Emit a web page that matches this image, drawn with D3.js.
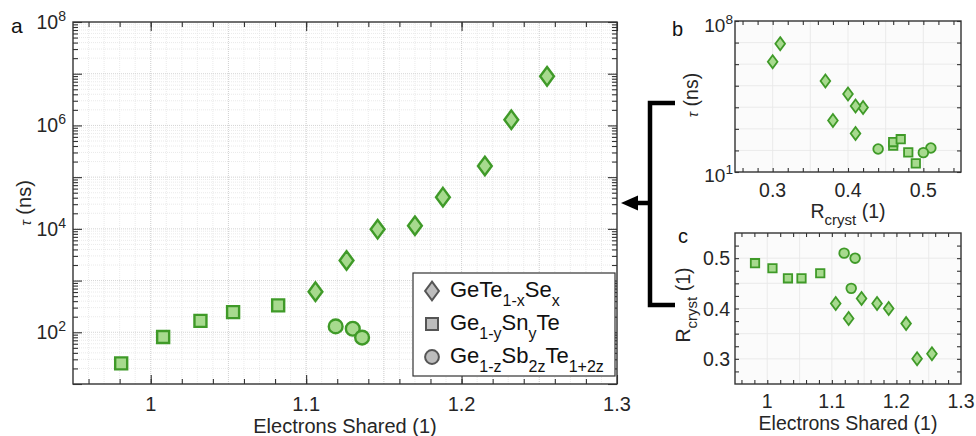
<!DOCTYPE html>
<html>
<head>
<meta charset="utf-8">
<script src="https://cdn.jsdelivr.net/npm/d3@7"></script>
<style>
  body { margin: 0; background: #fff; }
  svg { display: block; font-family: "Liberation Sans", Arial, sans-serif; }
</style>
</head>
<body>
<svg id="fig" width="976" height="436"></svg>
<script>
// Data: one entry per sample
const seriesNames = ['GeTe', 'GeSnTe', 'GeSbTe']
// GeTe(1-x)Se(x)
const seElectrons = [1.106, 1.126, 1.146, 1.170, 1.188, 1.215, 1.232, 1.255]
const seTau = [610, 2450, 9800, 11500, 41000, 164000, 1290000, 8900000]
const seRcryst = [0.41, 0.38, 0.42, 0.41, 0.40, 0.37, 0.30, 0.31]
// Ge(1-y)Sn(y)Te
const snElectrons = [0.981, 1.008, 1.032, 1.053, 1.082]
const snTau = [25, 81, 166, 245, 331]
const snRcryst = [0.49, 0.48, 0.46, 0.46, 0.47]
// Ge(1-z)Sb(2z)Te(1+2z)
const sbElectrons = [1.119, 1.130, 1.136]
const sbTau = [130, 117, 79]
const sbRcryst = [0.51, 0.44, 0.50]

const xTicksElectrons = [1, 1.1, 1.2, 1.3]
const yTicksTauA = [2, 4, 6, 8]       // exponents labelled in panel a
const yTicksTauB = [1, 8]             // exponents labelled in panel b
const xTicksR = [0.3, 0.4, 0.5]
const yTicksR = [0.3, 0.4, 0.5]

const fillGreen = '#a7da8e'
const strokeGreen = '#3f9a28'
const textCol = '#262626'

const series = [
  {name: seriesNames[0], shape: 'diamond', e: seElectrons, tau: seTau, r: seRcryst},
  {name: seriesNames[1], shape: 'square', e: snElectrons, tau: snTau, r: snRcryst},
  {name: seriesNames[2], shape: 'circle', e: sbElectrons, tau: sbTau, r: sbRcryst}
]

const svg = d3.select('#fig')

function markerPath(shape, s) {
  // s = half width of the square
  if (shape === 'square') return `M${-s},${-s}H${s}V${s}H${-s}Z`
  if (shape === 'diamond') return `M0,${-s * 1.55}L${s * 1.15},0L0,${s * 1.55}L${-s * 1.15},0Z`
  const r = s * 1.15
  return `M${-r},0A${r},${r} 0 1,0 ${r},0A${r},${r} 0 1,0 ${-r},0Z`
}

function inwardTicks(g, x, y, xVals, yVals, len) {
  const [x0, x1] = x.range()
  const [y0, y1] = y.range()
  const strip = s => s.select('.domain').remove()
  g.append('g').attr('transform', `translate(0,${y0})`)
    .call(d3.axisBottom(x).tickValues(xVals).tickSize(-len).tickFormat('')).call(strip)
  g.append('g').attr('transform', `translate(0,${y1})`)
    .call(d3.axisTop(x).tickValues(xVals).tickSize(-len).tickFormat('')).call(strip)
  g.append('g').attr('transform', `translate(${x0},0)`)
    .call(d3.axisLeft(y).tickValues(yVals).tickSize(-len).tickFormat('')).call(strip)
  g.append('g').attr('transform', `translate(${x1},0)`)
    .call(d3.axisRight(y).tickValues(yVals).tickSize(-len).tickFormat('')).call(strip)
  g.selectAll('.tick line').attr('stroke', '#333').attr('stroke-width', 1.1)
}

function frame(g, x, y) {
  const [x0, x1] = x.range()
  const [y0, y1] = y.range()
  g.append('rect').attr('x', x0).attr('y', y1).attr('width', x1 - x0).attr('height', y0 - y1)
    .attr('fill', 'none').attr('stroke', '#333').attr('stroke-width', 1.4)
}

function grid(g, x, y, xVals, yVals, col, dash, w) {
  const [x0, x1] = x.range()
  const [y0, y1] = y.range()
  g.append('g').selectAll('line').data(xVals).join('line')
    .attr('x1', d => x(d)).attr('x2', d => x(d)).attr('y1', y0).attr('y2', y1)
    .attr('stroke', col).attr('stroke-width', w).attr('stroke-dasharray', dash)
  g.append('g').selectAll('line').data(yVals).join('line')
    .attr('y1', d => y(d)).attr('y2', d => y(d)).attr('x1', x0).attr('x2', x1)
    .attr('stroke', col).attr('stroke-width', w).attr('stroke-dasharray', dash)
}

function points(g, x, y, xKey, yKey, s, sw) {
  series.forEach(sr => {
    const pts = sr[xKey].map((v, i) => [v, sr[yKey][i]])
    g.append('g').selectAll('path').data(pts).join('path')
      .attr('transform', d => `translate(${x(d[0])},${y(d[1])})`)
      .attr('d', markerPath(sr.shape, s))
      .attr('fill', fillGreen).attr('stroke', strokeGreen).attr('stroke-width', sw)
  })
}

function range(a, b, step) {
  const out = []
  for (let v = a; v <= b + 1e-9; v += step) out.push(+v.toFixed(4))
  return out
}
function decades(lo, hi) { return d3.range(lo, hi + 1).map(k => Math.pow(10, k)) }
function logMinor(lo, hi) {
  const out = []
  for (let k = lo; k < hi; k++) for (let m = 2; m <= 9; m++) out.push(m * Math.pow(10, k))
  return out
}

function powLabel(g, xPos, yPos, exp, size) {
  const t = g.append('text').attr('x', xPos).attr('y', yPos).attr('text-anchor', 'end')
    .attr('fill', textCol).attr('font-size', size)
  t.append('tspan').text('10')
  t.append('tspan').attr('dy', -size * 0.42).attr('font-size', size * 0.72).text(exp)
}

function subText(t, parts, subSize, subDy) {
  // parts: [text, isSub]
  let low = false
  parts.forEach(([s, sub]) => {
    const ts = t.append('tspan').text(s)
    if (sub && !low) { ts.attr('dy', subDy).attr('font-size', subSize); low = true }
    else if (sub) ts.attr('font-size', subSize)
    else if (low) { ts.attr('dy', -subDy); low = false }
  })
}

// ---------- Panel a ----------
const xA = d3.scaleLinear().domain([0.95, 1.3]).range([73, 617])
const yA = d3.scaleLog().domain([10, 1e8]).range([384, 22])
const gA = svg.append('g')
grid(gA, xA, yA, range(0.96, 1.29, 0.01), logMinor(1, 8), '#e4e4e4', '1,1', 0.8)
grid(gA, xA, yA, range(1.0, 1.25, 0.05), decades(2, 7), '#cfcfcf', '1,1', 0.9)
inwardTicks(gA, xA, yA, range(0.96, 1.28, 0.02), logMinor(1, 8), 5)
inwardTicks(gA, xA, yA, xTicksElectrons, decades(1, 8), 9)
frame(gA, xA, yA)
points(gA, xA, yA, 'e', 'tau', 6, 2.4)

xTicksElectrons.forEach(v => gA.append('text').attr('x', xA(v)).attr('y', 411)
  .attr('text-anchor', 'middle').attr('font-size', 20).attr('fill', textCol).text(d3.format('~g')(v)))
yTicksTauA.forEach(k => powLabel(gA, 66, yA(Math.pow(10, k)) + 7, k, 19.5))
gA.append('text').attr('x', 345).attr('y', 433).attr('text-anchor', 'middle')
  .attr('font-size', 20).attr('fill', textCol).text('Electrons Shared (1)')
const tA = gA.append('text').attr('transform', 'translate(31,203) rotate(-90)')
  .attr('text-anchor', 'middle').attr('font-size', 20).attr('fill', textCol)
tA.append('tspan').attr('font-style', 'italic').attr('font-size', 15).text('τ')
tA.append('tspan').text(' (ns)')
svg.append('text').attr('x', 11).attr('y', 33).attr('font-size', 21).attr('fill', '#111').text('a')

// legend
const leg = gA.append('g')
leg.append('rect').attr('x', 413).attr('y', 273).attr('width', 202).attr('height', 103)
  .attr('fill', '#fff').attr('stroke', '#333').attr('stroke-width', 1.2)
const legLabels = [
  [['GeTe', false], ['1-x', true], ['Se', false], ['x', true]],
  [['Ge', false], ['1-y', true], ['Sn', false], ['y', true], ['Te', false]],
  [['Ge', false], ['1-z', true], ['Sb', false], ['2z', true], ['Te', false], ['1+2z', true]]
]
series.forEach((sr, i) => {
  const cy = 291 + i * 33
  leg.append('path').attr('transform', `translate(432,${cy})`).attr('d', markerPath(sr.shape, 6))
    .attr('fill', '#bdbdbd').attr('stroke', '#555').attr('stroke-width', 2)
  const t = leg.append('text').attr('x', 450).attr('y', cy + 6).attr('font-size', 22).attr('fill', '#111')
  subText(t, legLabels[i], 16, 9)
})

// ---------- Panel b ----------
const xB = d3.scaleLinear().domain([0.25, 0.55]).range([735, 961])
const yB = d3.scaleLog().domain([10, 1e8]).range([172, 21])
const gB = svg.append('g')
gB.append('rect').attr('x', 735).attr('y', 21).attr('width', 226).attr('height', 151).attr('fill', '#fbfbfb')
grid(gB, xB, yB, range(0.3, 0.5, 0.05), decades(2, 7), '#e9e9e9', null, 0.9)
inwardTicks(gB, xB, yB, range(0.26, 0.54, 0.02), decades(1, 8), 4)
frame(gB, xB, yB)
points(gB, xB, yB, 'r', 'tau', 4.2, 1.8)
xTicksR.forEach(v => gB.append('text').attr('x', xB(v)).attr('y', 197)
  .attr('text-anchor', 'middle').attr('font-size', 19.5).attr('fill', textCol).text(v.toFixed(1)))
yTicksTauB.forEach(k => powLabel(gB, 733, yB(Math.pow(10, k)) + (k === 8 ? 11 : 10), k, 19))
const rB = gB.append('text').attr('x', 848).attr('y', 218).attr('text-anchor', 'middle')
  .attr('font-size', 19.5).attr('fill', textCol)
subText(rB, [['R', false], ['cryst', true], [' (1)', false]], 15, 7)
const tB = gB.append('text').attr('transform', 'translate(698,95) rotate(-90)')
  .attr('text-anchor', 'middle').attr('font-size', 19.5).attr('fill', textCol)
tB.append('tspan').attr('font-style', 'italic').attr('font-size', 14).text('τ')
tB.append('tspan').text(' (ns)')
svg.append('text').attr('x', 672).attr('y', 36).attr('font-size', 20).attr('fill', '#111').text('b')

// ---------- Panel c ----------
const xC = d3.scaleLinear().domain([0.95, 1.3]).range([735, 961])
const yC = d3.scaleLinear().domain([0.25, 0.55]).range([384, 233])
const gC = svg.append('g')
gC.append('rect').attr('x', 735).attr('y', 233).attr('width', 226).attr('height', 151).attr('fill', '#fbfbfb')
grid(gC, xC, yC, range(1.0, 1.25, 0.05), range(0.3, 0.5, 0.05), '#e9e9e9', null, 0.9)
inwardTicks(gC, xC, yC, range(0.96, 1.28, 0.02), range(0.275, 0.525, 0.025), 4)
frame(gC, xC, yC)
points(gC, xC, yC, 'e', 'r', 4.2, 1.8)
xTicksElectrons.forEach(v => gC.append('text').attr('x', xC(v)).attr('y', 408)
  .attr('text-anchor', 'middle').attr('font-size', 19.5).attr('fill', textCol).text(d3.format('~g')(v)))
yTicksR.forEach(v => gC.append('text').attr('x', 730).attr('y', yC(v) + 7)
  .attr('text-anchor', 'end').attr('font-size', 19.5).attr('fill', textCol).text(v.toFixed(1)))
gC.append('text').attr('x', 848).attr('y', 430).attr('text-anchor', 'middle')
  .attr('font-size', 19.5).attr('fill', textCol).text('Electrons Shared (1)')
const rC = gC.append('text').attr('transform', 'translate(690,305) rotate(-90)')
  .attr('text-anchor', 'middle').attr('font-size', 19.5).attr('fill', textCol)
subText(rC, [['R', false], ['cryst', true], [' (1)', false]], 15, 7)
svg.append('text').attr('x', 678).attr('y', 243).attr('font-size', 20).attr('fill', '#111').text('c')

// ---------- bracket + arrow ----------
svg.append('path').attr('d', 'M675,103H650V305H675').attr('fill', 'none')
  .attr('stroke', '#000').attr('stroke-width', 4.5)
svg.append('path').attr('d', 'M650,203H634').attr('stroke', '#000').attr('stroke-width', 4.5)
svg.append('path').attr('d', 'M621,203L638,195.5L638,210.5Z').attr('fill', '#000')
</script>
</body>
</html>
